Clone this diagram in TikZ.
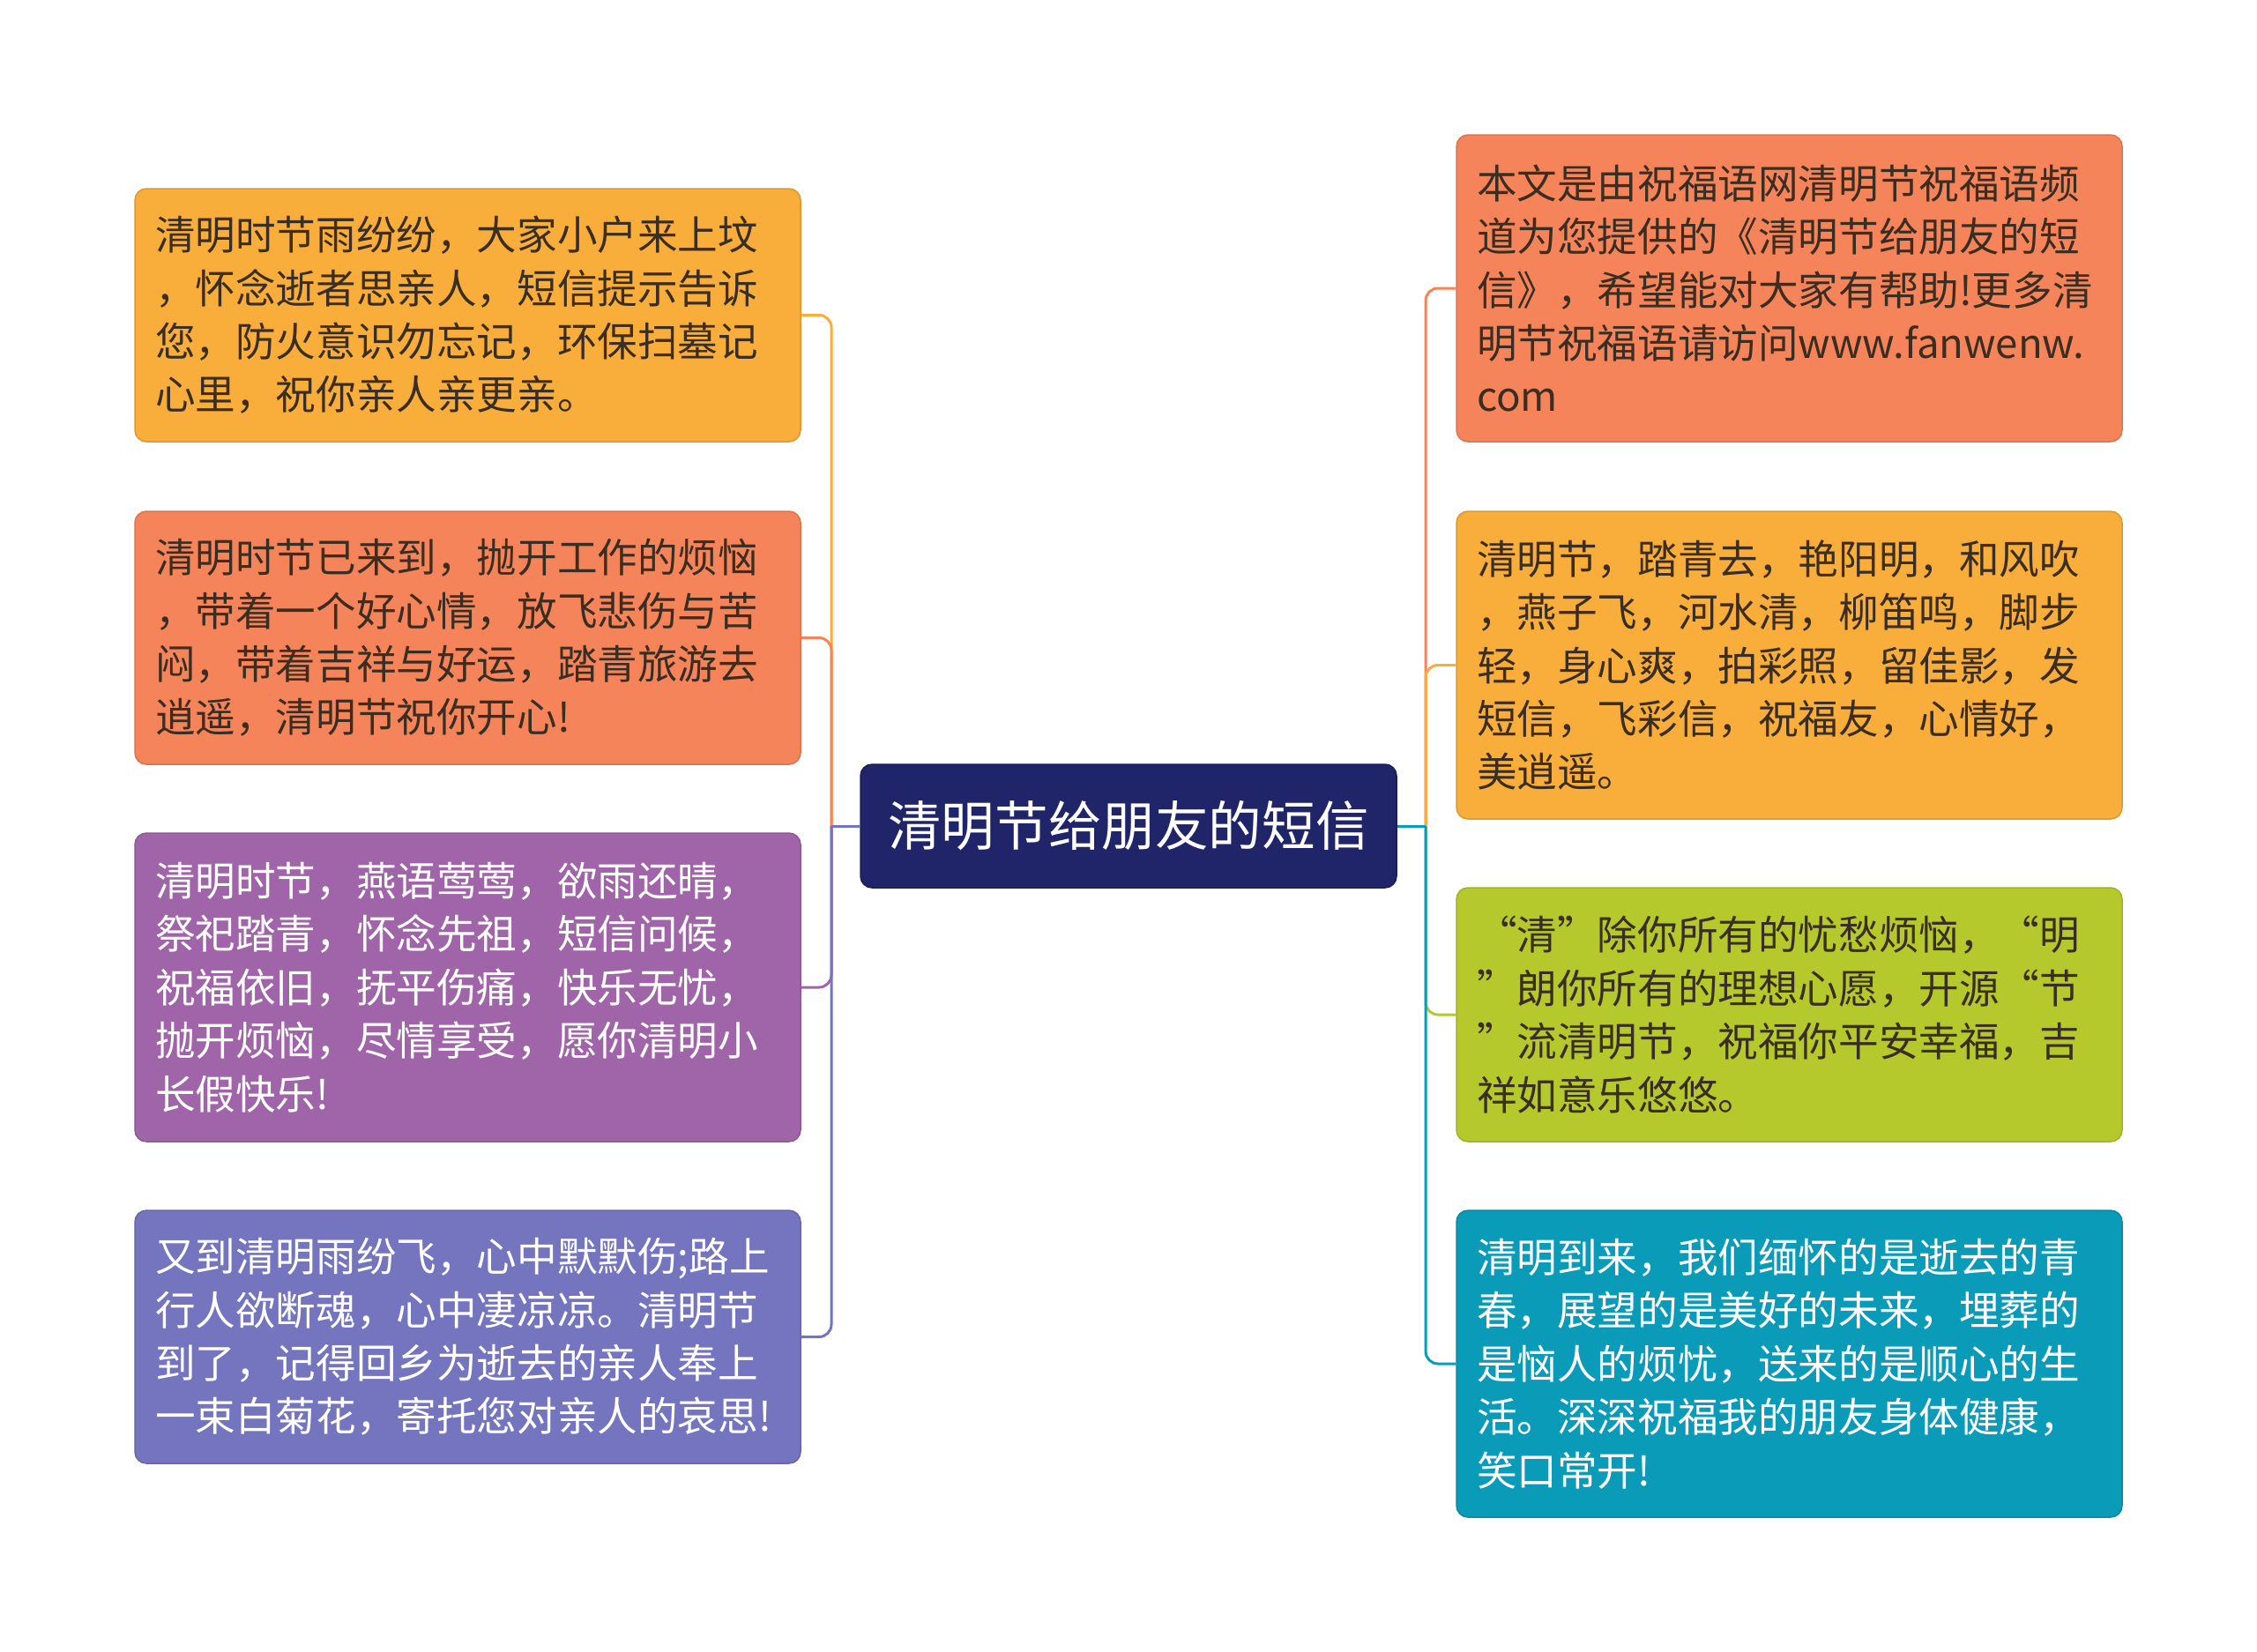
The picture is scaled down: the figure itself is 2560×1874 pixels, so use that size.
\documentclass[tikz,border=0pt]{standalone}
\usepackage{fontspec}
\newfontfamily\cjk{Noto Sans CJK SC}
\definecolor{cyel}{HTML}{F9AD3A}
\definecolor{cora}{HTML}{F6845A}
\definecolor{cpur}{HTML}{A065A8}
\definecolor{cblu}{HTML}{7574BE}
\definecolor{cgrn}{HTML}{B6C92C}
\definecolor{ctea}{HTML}{0A9BB9}
\definecolor{cnav}{HTML}{20256A}
\definecolor{ctxt}{HTML}{3A2E22}
\newcommand{\myoq}{\makebox[1em][r]{“}}
\newcommand{\mycq}{\makebox[1em][l]{”}}
\begin{document}
\begin{tikzpicture}[x=1pt,y=-1pt,
  box/.style={rounded corners=13pt, minimum width=755pt, text width=709pt, inner xsep=23pt, inner ysep=0pt, align=left, font=\cjk\fontsize{45.6pt}{60.4pt}\selectfont, line width=1.5pt},
  darkbox/.style={box, fill=#1, draw=#1!88!black, text=ctxt},
  lightbox/.style={box, fill=#1, draw=#1!88!black, text=white},
  conn/.style={line width=3pt, rounded corners=14pt}]
\useasboundingbox (0,0) rectangle (2560,1874);

\node[fill=cnav, draw=cnav!80!black, line width=1.5pt, rounded corners=13pt, minimum width=608pt, minimum height=140pt, inner sep=0pt, text=white, font=\cjk\fontsize{60.6pt}{70pt}\selectfont] (c) at (1280,937) {清明节给朋友的短信};

\node[darkbox=cyel, minimum height=287pt] (l1) at (530.5,357.5) {清明时节雨纷纷，大家小户来上坟\\，怀念逝者思亲人，短信提示告诉\\您，防火意识勿忘记，环保扫墓记\\心里，祝你亲人亲更亲。};
\node[darkbox=cora, minimum height=287pt] (l2) at (530.5,723.5) {清明时节已来到，抛开工作的烦恼\\，带着一个好心情，放飞悲伤与苦\\闷，带着吉祥与好运，踏青旅游去\\逍遥，清明节祝你开心!};
\node[lightbox=cpur, minimum height=350pt] (l3) at (530.5,1120) {清明时节，燕语莺莺，欲雨还晴，\\祭祀踏青，怀念先祖，短信问候，\\祝福依旧，抚平伤痛，快乐无忧，\\抛开烦恼，尽情享受，愿你清明小\\长假快乐!};
\node[lightbox=cblu, minimum height=287pt] (l4) at (530.5,1516.5) {又到清明雨纷飞，心中默默伤;路上\\行人欲断魂，心中凄凉凉。清明节\\到了，记得回乡为逝去的亲人奉上\\一束白菊花，寄托您对亲人的哀思!};

\node[darkbox=cora, minimum height=348pt] (r1) at (2029.5,327) {本文是由祝福语网清明节祝福语频\\道为您提供的《清明节给朋友的短\\信》，希望能对大家有帮助!更多清\\明节祝福语请访问www.fanwenw.\\com};
\node[darkbox=cyel, minimum height=349pt] (r2) at (2029.5,754.5) {清明节，踏青去，艳阳明，和风吹\\，燕子飞，河水清，柳笛鸣，脚步\\轻，身心爽，拍彩照，留佳影，发\\短信，飞彩信，祝福友，心情好，\\美逍遥。};
\node[darkbox=cgrn, minimum height=288pt] (r3) at (2029.5,1151) {\myoq 清\mycq 除你所有的忧愁烦恼，\myoq 明\\\mycq 朗你所有的理想心愿，开源\myoq 节\\\mycq 流清明节，祝福你平安幸福，吉\\祥如意乐悠悠。};
\node[lightbox=ctea, minimum height=348pt] (r4) at (2029.5,1547) {清明到来，我们缅怀的是逝去的青\\春，展望的是美好的未来，埋葬的\\是恼人的烦忧，送来的是顺心的生\\活。深深祝福我的朋友身体健康，\\笑口常开!};

\coordinate (tl) at (943,937);
\coordinate (tr) at (1617,937);

\draw[conn, cyel] (tl) -- (tl |- l1.east) -- (l1.east);
\draw[conn, cora] (tl) -- (tl |- l2.east) -- (l2.east);
\draw[conn, cpur] (tl) -- (tl |- l3.east) -- (l3.east);
\draw[conn, cblu] (tl) -- (tl |- l4.east) -- (l4.east);
\draw[conn, cblu] (c.west) -- (tl);

\draw[conn, cora] (tr) -- (tr |- r1.west) -- (r1.west);
\draw[conn, cyel] (tr) -- (tr |- r2.west) -- (r2.west);
\draw[conn, cgrn] (tr) -- (tr |- r3.west) -- (r3.west);
\draw[conn, ctea] (tr) -- (tr |- r4.west) -- (r4.west);
\draw[conn, ctea] (c.east) -- (tr);
\end{tikzpicture}
\end{document}
